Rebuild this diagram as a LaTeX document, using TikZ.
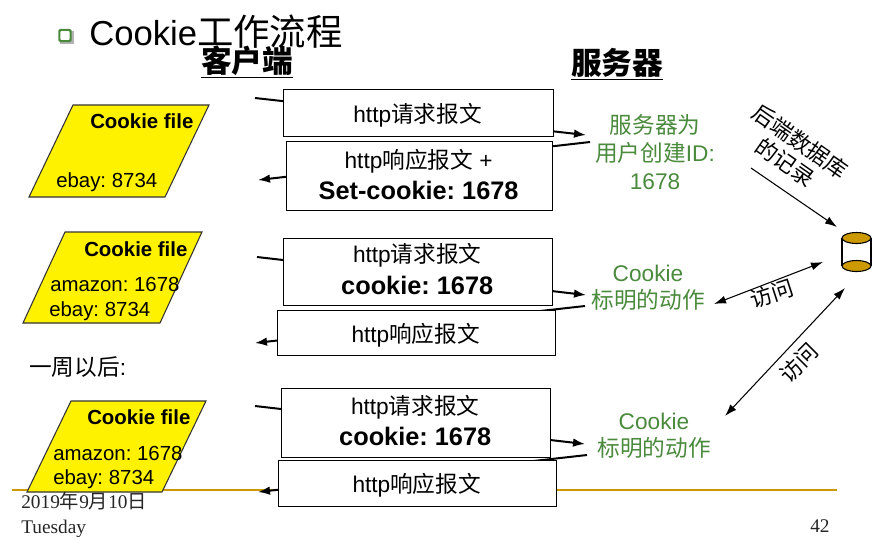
\documentclass[tikz,border=0pt]{standalone}
\usepackage{fontspec}
\setmainfont{Liberation Sans}
\newfontfamily\cjk{Noto Sans CJK SC}
\newfontfamily\tnr{Liberation Serif}
\usetikzlibrary{arrows.meta}
\definecolor{gold}{HTML}{CC9900}
\definecolor{grn}{HTML}{4A8A3C}
\newcommand{\fs}[1]{\fontsize{#1}{#1}\selectfont}
\frenchspacing
\tikzset{
  x=0.75pt,y=-0.75pt,
  msgbox/.style={draw=black,fill=white,line width=.8pt,anchor=north west,inner sep=0pt},
  msgtext/.style={inner sep=0pt,align=center},
  msgline/.style={line width=1.5pt,-{Latex[length=9pt,width=6.5pt]}},
  thin arrow/.style={line width=.8pt,-{Latex[length=9pt,width=6pt]}},
  both arrow/.style={line width=.8pt,{Latex[length=9pt,width=6pt]}-{Latex[length=9pt,width=6pt]}},
  cookiefile/.style={draw=black!80,fill=yellow,line width=.8pt},
  ftext/.style={inner sep=0pt,anchor=base west,font=\fs{15.3}},
  ftitle/.style={inner sep=0pt,anchor=base west,font=\fs{15.3}\bfseries},
  green text/.style={inner sep=0pt,align=center,text=grn,font=\fs{17}\cjk},
  lab/.style={inner sep=0pt,align=center,font=\fs{16.5}\cjk},
}
\begin{document}
\begin{tikzpicture}
\useasboundingbox (0,0) rectangle (874,536);
% footer rule
\coordinate (ruleL) at (12,490);
\coordinate (ruleR) at (837,490);
\draw[gold,line width=2pt] (ruleL) -- (ruleR);
% title
\fill[black!30] (60,31) rectangle (73.5,43.5);
\node[draw=grn,fill=white,line width=1.6pt,rounded corners=1pt,minimum size=8.5pt,inner sep=0pt] (bullet) at (65,35.5) {};
\node[inner sep=0pt,anchor=base west,font=\fs{26}] (title) at (89,45) {Cookie{\cjk\fs{27.3}工作流程}};
\node[inner sep=0pt,font=\fs{23}\cjk\bfseries] (client) at (247,62) {\underline{客户端}};
\node[inner sep=0pt,font=\fs{23}\cjk\bfseries] (server) at (617,64) {\underline{服务器}};
% free ends
\coordinate (a1) at (255,98); \coordinate (a2) at (586,135);
\coordinate (b1) at (590,142); \coordinate (b2) at (258,180);
\coordinate (c1) at (257,257); \coordinate (c2) at (586,295);
\coordinate (d1) at (585,306); \coordinate (d2) at (255,343);
\coordinate (e1) at (255,406); \coordinate (e2) at (585,444);
\coordinate (f1) at (587,455); \coordinate (f2) at (258,492);
\draw[msgline] (a1) -- (a2);
\draw[msgline] (b1) -- (b2);
\draw[msgline] (c1) -- (c2);
\draw[msgline] (d1) -- (d2);
\draw[msgline] (e1) -- (e2);
\draw[msgline] (f1) -- (f2);
% message boxes
\node[msgbox,minimum width=202.5pt,minimum height=35.25pt] (A) at (283,89) {};
\node[msgtext,font=\fs{17},yshift=-1.5pt,xshift=-.7pt] (At) at (A.center) {http{\cjk 请求报文}};
\node[msgbox,minimum width=199.5pt,minimum height=51.75pt] (B) at (286,141) {};
\node[msgtext,yshift=1.3pt,xshift=-.7pt] (Bt) at (B.center) {\fs{17}http{\cjk 响应报文} +\\[4.6pt]\fs{19}\bfseries Set-cookie: 1678};
\node[msgbox,minimum width=201.75pt,minimum height=50.25pt,line width=1pt] (C) at (283,238) {};
\node[msgtext,yshift=2.5pt,xshift=-.7pt] (Ct) at (C.center) {\fs{17}http{\cjk 请求报文}\\[5.6pt]\fs{19}\bfseries cookie: 1678};
\node[msgbox,minimum width=208.5pt,minimum height=33.75pt,line width=1pt] (D) at (277,310) {};
\node[msgtext,font=\fs{17},yshift=-1.5pt,xshift=-.7pt] (Dt) at (D.center) {http{\cjk 响应报文}};
\node[msgbox,minimum width=201.75pt,minimum height=51.75pt,line width=1pt] (E) at (281,388) {};
\node[msgtext,yshift=2.3pt,xshift=-.7pt] (Et) at (E.center) {\fs{17}http{\cjk 请求报文}\\[5pt]\fs{19}\bfseries cookie: 1678};
\node[msgbox,minimum width=208.5pt,minimum height=34.5pt,line width=1pt] (F) at (278,460) {};
\node[msgtext,font=\fs{17},yshift=-1.5pt,xshift=-.7pt] (Ft) at (F.center) {http{\cjk 响应报文}};
% cookie files
\draw[cookiefile] (73,105) -- (209,105) -- (165,197) -- (29,197) -- cycle;
\node[ftitle] (f1t) at (90,128) {Cookie file};
\node[ftext] (f1a) at (56,187) {ebay: 8734};
\draw[cookiefile] (65,232) -- (202,232) -- (160,323) -- (23,323) -- cycle;
\node[ftitle] (f2t) at (84,256) {Cookie file};
\node[ftext] (f2a) at (50,291) {amazon: 1678};
\node[ftext] (f2b) at (49,316) {ebay: 8734};
\draw[cookiefile] (71,401) -- (206,401) -- (162,492) -- (27,492) -- cycle;
\node[ftitle] (f3t) at (87,424) {Cookie file};
\node[ftext] (f3a) at (53,460) {amazon: 1678};
\node[ftext] (f3b) at (53,484) {ebay: 8734};
% a week later
\node[inner sep=0pt,anchor=base west,font=\fs{17}\cjk] (week) at (29,375) {一周以后{\rmfamily:}};
% server notes
\node[green text] (s1) at (655,152) {服务器为\\[4pt]用户创建{\rmfamily ID:}\\[4pt]{\rmfamily 1678}};
\node[green text] (s2) at (648,288) {{\rmfamily Cookie}\\[3pt]标明的动作};
\node[green text] (s3) at (654,436) {{\rmfamily Cookie}\\[3pt]标明的动作};
% database
\draw[line width=.8pt] (842,238) -- (842,266) (871,238) -- (871,266);
\draw[fill=gold,line width=.8pt] (856.5,238) ellipse [x radius=14.5,y radius=5.5];
\draw[fill=gold,line width=.8pt] (856.5,266) ellipse [x radius=14.5,y radius=5.5];
\coordinate (db1) at (837,227); \coordinate (db2) at (823,262); \coordinate (db3) at (845,288);
\coordinate (rec) at (751,168); \coordinate (act1) at (714,304); \coordinate (act2) at (725,416);
\draw[thin arrow] (rec) -- (db1);
\draw[both arrow] (act1) -- (db2);
\draw[both arrow] (act2) -- (db3);
\node[lab,rotate=-35] (recl) at (793,152) {后端数据库\\[2.5pt]的记录};
\node[lab,rotate=18] (v1) at (772,294) {访问};
\node[lab,rotate=45] (v2) at (799,363) {访问};
% footer
\node[inner sep=0pt,anchor=base west,font=\fs{14.5}\tnr,text=black!85] (date) at (21,508) {2019{\cjk 年}9{\cjk 月}10{\cjk 日}};
\node[inner sep=0pt,anchor=base west,font=\fs{14.5}\tnr,text=black!85] (day) at (21,533) {Tuesday};
\node[inner sep=0pt,anchor=base west,font=\fs{14.5}\tnr,text=black!85] (page) at (810,532) {42};
\end{tikzpicture}
\end{document}
